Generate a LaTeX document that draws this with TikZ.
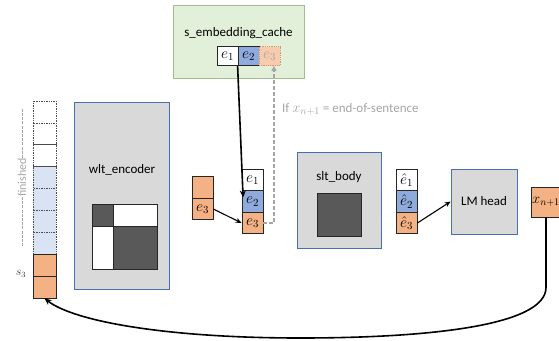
\RequirePackage{fix-cm}
\documentclass[tikz,border=0pt]{standalone}
\usepackage{fontspec}
\setmainfont{Carlito}
\usetikzlibrary{arrows.meta,calc}
\definecolor{orng}{HTML}{F4B183}
\definecolor{orngl}{HTML}{F8CBAD}
\definecolor{blu}{HTML}{8FAADC}
\definecolor{ltblue}{HTML}{DAE3F3}
\definecolor{cgreen}{HTML}{E2F0D9}
\definecolor{cgreenb}{HTML}{A3BD8F}
\definecolor{boxgray}{HTML}{D9D9D9}
\definecolor{boxblue}{HTML}{4A6FB0}
\definecolor{darkfill}{HTML}{595959}
\definecolor{txtgray}{HTML}{A6A6A6}
\begin{document}
\begin{tikzpicture}[x=1pt,y=-1pt,
  lbl/.style={inner sep=0pt, font=\fontsize{13}{15}\selectfont},
  cell/.style={draw=black!85, line width=0.8pt, minimum width=21pt, minimum height=21.5pt, inner sep=0pt, font=\fontsize{15.5}{17}\selectfont},
  dcell/.style={draw=black!70, line width=0.7pt, densely dotted, minimum width=23pt, minimum height=21.86pt, inner sep=0pt},
  gbox/.style={draw=boxblue, line width=0.7pt, fill=boxgray, inner sep=0pt},
  blk/.style={draw=black!85, line width=0.8pt},
  arr/.style={line width=1.1pt, -{Stealth[length=6pt,width=5pt]}},
  barr/.style={line width=1.6pt, -{Stealth[length=7pt,width=6pt]}}
]
\useasboundingbox (0,0) rectangle (559,340);

% s_embedding_cache
\node[draw=cgreenb, line width=0.8pt, fill=cgreen, minimum width=131pt, minimum height=73pt, inner sep=0pt] (cache) at (238.5,41.5) {};
\node[lbl] (cachelbl) at (238.5,33) {s\_embedding\_cache};
\node[cell, fill=white, minimum height=19pt] (c1) at (227.5,56) {$e_1$};
\node[cell, fill=blu, minimum height=19pt] (c2) at (248.5,56) {$e_2$};
\node[cell, fill=orngl, draw=orng!85!black, densely dotted, minimum height=19pt, text=txtgray] (c3) at (269.5,56) {$e_3$};

% left stack
\foreach \i in {1,2,3}{
  \pgfmathsetmacro\yy{101+21.857*(\i-0.5)}
  \node[dcell, fill=white] (f\i) at (44.5,\yy) {};
}
\foreach \i in {4,5,6,7}{
  \pgfmathsetmacro\yy{101+21.857*(\i-0.5)}
  \node[dcell, fill=ltblue] (f\i) at (44.5,\yy) {};
}
\node[cell, fill=orng, minimum width=23pt, minimum height=22pt] (s1) at (44.5,265) {};
\node[cell, fill=orng, minimum width=23pt, minimum height=22pt] (s2) at (44.5,287) {};
\node[inner sep=0pt, rotate=90, text=txtgray, font=\fontsize{12}{14}\selectfont] (fin) at (22,177.5) {finished};
\draw[txtgray, line width=0.7pt, dash pattern=on 3pt off 1.2pt] (fin.east) -- ++(0,-49);
\draw[txtgray, line width=0.7pt, dash pattern=on 3pt off 1.2pt] (fin.west) -- ++(0,50);
\node[inner sep=0pt, text=black!80, font=\fontsize{12}{14}\selectfont] (s3lbl) at (21,274) {$s_3$};

% wlt_encoder
\node[gbox, minimum width=95pt, minimum height=187pt] (wlt) at (121.5,195.5) {};
\node[lbl] (wltlbl) at (122,170) {wlt\_encoder};
\draw[blk, fill=darkfill] (92,204) rectangle (113,226);
\draw[blk, fill=white] (113,204) rectangle (157,226);
\draw[blk, fill=white] (92,226) rectangle (113,269);
\draw[blk, fill=darkfill] (113,226) rectangle (157,269);

% e3 input stack
\node[cell, fill=orng] (l1) at (202.5,187.5) {};
\node[cell, fill=orng] (l2) at (202.5,209) {$e_3$};

% middle stack
\node[cell, fill=white] (m1) at (252.5,180) {$e_1$};
\node[cell, fill=blu] (m2) at (252.5,201.5) {$e_2$};
\node[cell, fill=orng] (m3) at (252.5,223) {$e_3$};

% slt_body
\node[gbox, minimum width=84pt, minimum height=96pt] (slt) at (339,200) {};
\node[lbl] (sltlbl) at (339,177) {slt\_body};
\draw[blk, fill=darkfill] (317,193) rectangle (361,236);

% hat stack
\node[cell, fill=white] (h1) at (406.5,180) {$\hat{e}_1$};
\node[cell, fill=blu] (h2) at (406.5,201.5) {$\hat{e}_2$};
\node[cell, fill=orng] (h3) at (406.5,223) {$\hat{e}_3$};

% LM head
\node[gbox, minimum width=66pt, minimum height=65pt, font=\fontsize{13}{15}\selectfont] (lm) at (484,201.5) {LM head};

% x_{n+1}
\node[cell, fill=orng, minimum width=30pt, minimum height=30pt, font=\fontsize{14.5}{16}\selectfont] (xn) at (546,202) {$x_{n+1}$};

% connectors
\draw[barr] (c2.south west) -- ($(m2.west)+(1.5,-4)$);
\draw[arr] (l2.east) -- (m3.west);
\draw[txtgray, line width=1.5pt, dash pattern=on 4pt off 2pt, -{Triangle[length=5pt,width=5pt]}] (m3.east) -| ($(c3.south)+(4.5,0)$);
\node[anchor=west, inner sep=0pt, text=txtgray, font=\fontsize{13}{15}\selectfont] (iflbl) at (282,109) {If {\fontsize{14.5}{16}\selectfont$x_{n+1}$} = end-of-sentence};
\draw[arr] (h3.east) -- (lm.west);
\draw[barr] (xn.south) -- ++(0,70) .. controls +(0,38) and (430,338) .. (300,338) .. controls (170,338) and (75,322) .. (s2.south);
\end{tikzpicture}
\end{document}
